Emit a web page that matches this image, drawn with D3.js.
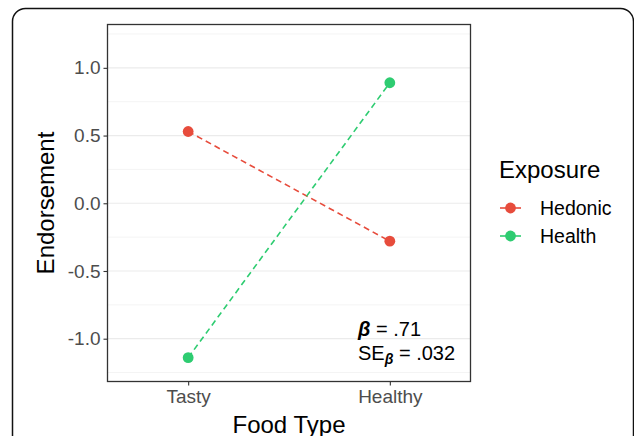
<!DOCTYPE html>
<html>
<head>
<meta charset="utf-8">
<script src="https://cdn.jsdelivr.net/npm/d3@7/dist/d3.min.js"></script>
<style>
  html, body { margin: 0; padding: 0; background: #fff; }
  svg { display: block; font-family: "Liberation Sans", Arial, sans-serif; }
</style>
</head>
<body>
<svg id="chart" width="634" height="436"></svg>
<script>
// Food type on the x axis, exposure condition as series
const foodTypes = ["Tasty", "Healthy"];
const exposures = ["Hedonic", "Health"];
const hedonicValues = [0.53, -0.28];
const healthValues = [-1.14, 0.89];
const yTicks = [-1.0, -0.5, 0.0, 0.5, 1.0];
const yMinorTicks = [-1.25, -0.75, -0.25, 0.25, 0.75, 1.25];
const seriesColors = ["#E74C3C", "#2ECC71"];
const betaText = ".71";
const seText = ".032";

const series = [
  { name: exposures[0], values: hedonicValues, color: seriesColors[0] },
  { name: exposures[1], values: healthValues, color: seriesColors[1] }
];

const svg = d3.select("#chart");

// outer rounded frame
svg.append("rect")
  .attr("x", 12.5).attr("y", 8.5)
  .attr("width", 621).attr("height", 500)
  .attr("rx", 13).attr("ry", 13)
  .attr("fill", "none").attr("stroke", "#111").attr("stroke-width", 1.5);

const panel = { left: 107.5, right: 470.5, top: 24.5, bottom: 381.5 };

const x = d3.scalePoint()
  .domain(foodTypes)
  .range([panel.left, panel.right])
  .padding(0.4);

const y = d3.scaleLinear()
  .domain([-1.316, 1.32])
  .range([panel.bottom, panel.top]);

const g = svg.append("g");

// minor gridlines
g.selectAll("line.minor").data(yMinorTicks).join("line")
  .attr("class", "minor")
  .attr("x1", panel.left).attr("x2", panel.right)
  .attr("y1", d => y(d)).attr("y2", d => y(d))
  .attr("stroke", "#F4F4F4").attr("stroke-width", 1);

// major gridlines
g.selectAll("line.major").data(yTicks).join("line")
  .attr("class", "major")
  .attr("x1", panel.left).attr("x2", panel.right)
  .attr("y1", d => y(d)).attr("y2", d => y(d))
  .attr("stroke", "#EBEBEB").attr("stroke-width", 1.2);

// y axis
const yAxis = d3.axisLeft(y)
  .tickValues(yTicks)
  .tickFormat(d3.format(".1f"))
  .tickSize(4).tickPadding(3);
const yg = svg.append("g").attr("transform", `translate(${panel.left},0)`).call(yAxis);
yg.select(".domain").remove();
yg.selectAll(".tick line").attr("stroke", "#333").attr("stroke-width", 1.1);
yg.selectAll(".tick text")
  .attr("fill", "#4D4D4D").style("font-size", "19px")
  .text(d => d3.format(".1f")(d).replace("−", "-"));

// x axis
const xAxis = d3.axisBottom(x).tickSize(4).tickPadding(4);
const xg = svg.append("g").attr("transform", `translate(0,${panel.bottom})`).call(xAxis);
xg.select(".domain").remove();
xg.selectAll(".tick line").attr("stroke", "#333").attr("stroke-width", 1.1);
xg.selectAll(".tick text").attr("fill", "#4D4D4D").style("font-size", "19px");

// lines and points
const line = d3.line()
  .x((d, i) => x(foodTypes[i]))
  .y(d => y(d));

series.forEach(s => {
  g.append("path")
    .datum(s.values)
    .attr("d", line)
    .attr("fill", "none")
    .attr("stroke", s.color)
    .attr("stroke-width", 1.6)
    .attr("stroke-dasharray", "6,4");
});
series.forEach(s => {
  g.selectAll(null).data(s.values).join("circle")
    .attr("cx", (d, i) => x(foodTypes[i]))
    .attr("cy", d => y(d))
    .attr("r", 5.4)
    .attr("fill", s.color);
});

// panel border
svg.append("rect")
  .attr("x", panel.left).attr("y", panel.top)
  .attr("width", panel.right - panel.left).attr("height", panel.bottom - panel.top)
  .attr("fill", "none").attr("stroke", "#333").attr("stroke-width", 1.3);

// annotation: beta and its standard error
const ann = svg.append("g").style("font-size", "20px").attr("fill", "#000");
const t1 = ann.append("text").attr("x", 358).attr("y", 335.5);
t1.append("tspan").text("β").attr("font-weight", "bold").attr("font-style", "italic");
t1.append("tspan").text(" = " + betaText);
const t2 = ann.append("text").attr("x", 358).attr("y", 359.5);
t2.append("tspan").text("SE");
t2.append("tspan").text("β").attr("font-weight", "bold").attr("font-style", "italic")
  .style("font-size", "14px").attr("dy", 4);
t2.append("tspan").text(" = " + seText).attr("dy", -4);

// axis titles
svg.append("text")
  .attr("x", x("Tasty") / 2 + x("Healthy") / 2).attr("y", 433)
  .attr("text-anchor", "middle").style("font-size", "24px").attr("fill", "#000")
  .text("Food Type");
svg.append("text")
  .attr("transform", `translate(54,${(panel.top + panel.bottom) / 2}) rotate(-90)`)
  .attr("text-anchor", "middle").style("font-size", "24px").attr("fill", "#000")
  .text("Endorsement");

// legend
const legend = svg.append("g");
legend.append("text")
  .attr("x", 499).attr("y", 178)
  .style("font-size", "24px").attr("fill", "#000")
  .text("Exposure");
const itemY = [208, 236];
series.forEach((s, i) => {
  const row = legend.append("g").attr("transform", `translate(0,${itemY[i]})`);
  row.append("line").attr("x1", 500).attr("x2", 521).attr("y1", 0).attr("y2", 0)
    .attr("stroke", s.color).attr("stroke-width", 1.6);
  row.append("circle").attr("cx", 510.5).attr("cy", 0).attr("r", 5.4).attr("fill", s.color);
  row.append("text").attr("x", 540).attr("y", 6.5)
    .style("font-size", "19.5px").attr("fill", "#000").text(s.name);
});
</script>
</body>
</html>
